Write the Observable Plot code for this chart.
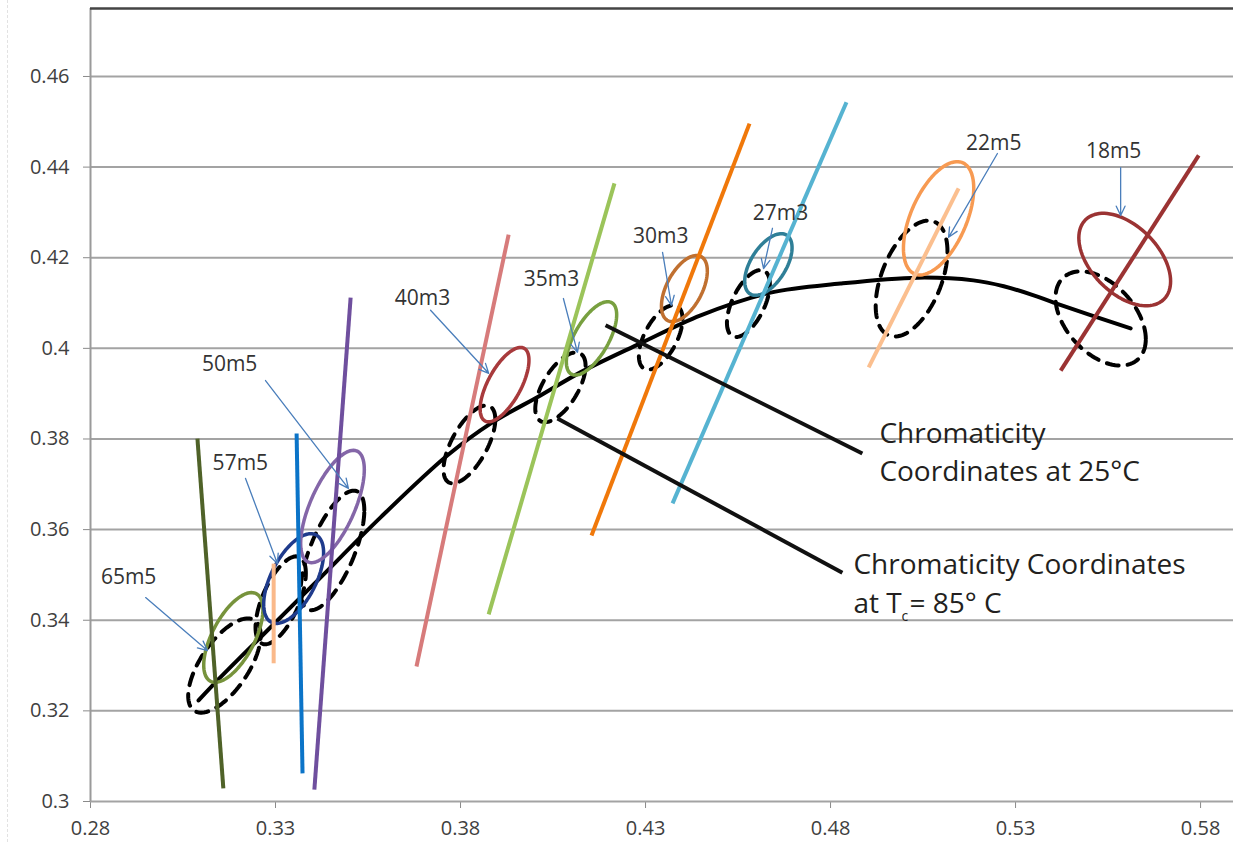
<!DOCTYPE html>
<html>
<head>
<meta charset="utf-8">
<script src="https://cdn.jsdelivr.net/npm/d3@7"></script>
<script src="https://cdn.jsdelivr.net/npm/@observablehq/plot@0.6"></script>
<style>
  html, body { margin: 0; padding: 0; background: #fff; }
  #wrap { position: relative; width: 1233px; height: 842px; overflow: hidden; }
  #edge { position: absolute; left: 7px; top: 0; height: 842px; border-left: 1px dashed #e2e2e2; }
  svg [aria-label="y-axis tick"], svg [aria-label="x-axis tick"] { stroke: #8a8a8a; }
  svg [aria-label="y-axis tick label"], svg [aria-label="x-axis tick label"] { fill: #404040; }
</style>
</head>
<body>
<div id="wrap"><div id="edge"></div><div id="chart"></div></div>
<script>
// ---- axis ticks ----
const xTicks = [0.28, 0.33, 0.38, 0.43, 0.48, 0.53, 0.58];
const yTicks = [0.3, 0.32, 0.34, 0.36, 0.38, 0.4, 0.42, 0.44, 0.46];
const xDomain = [0.28, 0.5889];
const yDomain = [0.3, 0.475];

// ---- black locus curve ----
const locusX = [0.3092, 0.3132, 0.3259, 0.3403, 0.3584, 0.3765, 0.3881, 0.4016, 0.4124, 0.4286, 0.4449, 0.4638, 0.4827, 0.5035, 0.5186, 0.5268, 0.5349, 0.5403, 0.5611];
const locusY = [0.3223, 0.3258, 0.3362, 0.3479, 0.3627, 0.3764, 0.3834, 0.3896, 0.3947, 0.4011, 0.4073, 0.4123, 0.4143, 0.4156, 0.4150, 0.4137, 0.4117, 0.4101, 0.4044];

// ---- coloured iso lines (end points) ----
const isoColor = ["#4f6228", "#fab98a", "#0b74c8", "#6f4f9e", "#d77b7b", "#9bc45a", "#f0780a", "#56b3d1", "#fbbf8f", "#9b3333"];
const isoX1 = [0.3089, 0.3295, 0.3357, 0.3503, 0.3930, 0.4216, 0.4581, 0.4843, 0.5146, 0.5795];
const isoY1 = [0.3801, 0.3525, 0.3812, 0.4112, 0.4251, 0.4364, 0.4496, 0.4543, 0.4353, 0.4426];
const isoX2 = [0.3159, 0.3295, 0.3373, 0.3405, 0.3681, 0.3876, 0.4154, 0.4373, 0.4903, 0.5422];
const isoY2 = [0.3029, 0.3305, 0.3062, 0.3026, 0.3298, 0.3413, 0.3587, 0.3658, 0.3958, 0.3951];

// ---- 25°C ellipses (solid, coloured) : centre, half x-extent, half y-extent, phase ----
const labels   = ["65m5", "57m5", "50m5", "40m3", "35m3", "30m3", "27m3", "22m5", "18m5"];
const ellColor = ["#77933c", "#1f3b8c", "#8466a8", "#a83a3c", "#78a040", "#c07030", "#2f7f97", "#f79a52", "#9b3333"];
const ellCx  = [0.3186, 0.3349, 0.3454, 0.3919, 0.4154, 0.4405, 0.4632, 0.5092, 0.5595];
const ellCy  = [0.3362, 0.3492, 0.3651, 0.3920, 0.4022, 0.4132, 0.4185, 0.4287, 0.4196];
const ellRx  = [0.0080, 0.0081, 0.0086, 0.0066, 0.0068, 0.0062, 0.0064, 0.0095, 0.0124];
const ellRy  = [0.0099, 0.0099, 0.0124, 0.0082, 0.0081, 0.0073, 0.0068, 0.0125, 0.0102];
const ellPhi = [52, 55, 49, 49, 50, 58, 57, 58, 118];

// ---- 85°C ellipses (dashed, black) ----
const hotCx  = [0.3162, 0.3314, 0.3454, 0.3824, 0.4070, 0.4341, 0.4578, 0.5019, 0.5530];
const hotCy  = [0.3300, 0.3444, 0.3554, 0.3788, 0.3914, 0.4024, 0.4099, 0.4154, 0.4066];
const hotRx  = [0.0098, 0.0068, 0.0086, 0.0070, 0.0068, 0.0059, 0.0058, 0.0097, 0.0122];
const hotRy  = [0.0104, 0.0097, 0.0132, 0.0086, 0.0077, 0.0071, 0.0074, 0.0128, 0.0104];
const hotPhi = [50, 52, 48, 50, 52, 55, 55, 62, 116];

// ---- labels & arrows ----
const labelX = [0.2903, 0.3205, 0.3176, 0.3697, 0.4046, 0.4341, 0.4665, 0.5241, 0.5565];
const labelY = [0.3494, 0.3746, 0.3964, 0.4110, 0.4152, 0.4247, 0.4298, 0.4452, 0.4435];
const arrX1 = [0.2949, 0.3219, 0.3273, 0.3719, 0.4078, 0.4346, 0.4643, 0.5251, 0.5584];
const arrY1 = [0.3450, 0.3713, 0.3929, 0.4084, 0.4110, 0.4212, 0.4265, 0.4430, 0.4399];
const arrX2 = [0.3116, 0.3305, 0.3497, 0.3876, 0.4116, 0.4370, 0.4619, 0.5119, 0.5584];
const arrY2 = [0.3333, 0.3525, 0.3691, 0.3945, 0.3991, 0.4095, 0.4176, 0.4245, 0.4293];

// ---- callouts ----
const calloutX1 = [0.4192, 0.4062];
const calloutY1 = [0.4051, 0.3845];
const calloutX2 = [0.4886, 0.4832];
const calloutY2 = [0.3768, 0.3505];
const noteText = ["Chromaticity", "Coordinates at 25°C", "Chromaticity Coordinates"];
const noteX = [0.4932, 0.4932, 0.4862];
const noteY = [0.3792, 0.3708, 0.3503];
const note4X = 0.4862, note4Y = 0.3415;

// ---- build tables ----
const locus = locusX.map((x, i) => ({x, y: locusY[i]}));
const iso = isoX1.map((x, i) => ({x1: x, y1: isoY1[i], x2: isoX2[i], y2: isoY2[i], c: isoColor[i]}));
function ellipsePts(cx, cy, rx, ry, phiDeg, id) {
  const phi = phiDeg * Math.PI / 180, pts = [];
  for (let k = 0; k <= 96; k++) {
    const t = 2 * Math.PI * k / 96;
    pts.push({id, x: cx + rx * Math.cos(t), y: cy + ry * Math.cos(t - phi)});
  }
  return pts;
}
const coolEll = labels.flatMap((l, i) => ellipsePts(ellCx[i], ellCy[i], ellRx[i], ellRy[i], ellPhi[i], l).map(p => ({...p, c: ellColor[i]})));
const hotEll = labels.flatMap((l, i) => ellipsePts(hotCx[i], hotCy[i], hotRx[i], hotRy[i], hotPhi[i], l));
const lab = labels.map((t, i) => ({t, x: labelX[i], y: labelY[i]}));
const arr = labels.map((t, i) => ({x1: arrX1[i], y1: arrY1[i], x2: arrX2[i], y2: arrY2[i]}));
const callouts = calloutX1.map((x, i) => ({x1: x, y1: calloutY1[i], x2: calloutX2[i], y2: calloutY2[i]}));
const notes = noteText.map((t, i) => ({t, x: noteX[i], y: noteY[i]}));
const FONT = "'Open Sans', 'Noto Sans', sans-serif";
const fmt = d => String(+d.toFixed(2));

const chart = Plot.plot({
  width: 1233,
  height: 842,
  marginLeft: 90,
  marginRight: 0,
  marginTop: 8,
  marginBottom: 41,
  style: {fontFamily: FONT, fontSize: "20px", color: "#404040", background: "#fff", overflow: "visible"},
  x: {domain: xDomain, ticks: xTicks, tickFormat: fmt, tickSize: 7, tickPadding: 12, label: null},
  y: {domain: yDomain, ticks: yTicks, tickFormat: fmt, tickSize: 7, tickPadding: 14, label: null},
  marks: [
    Plot.ruleY(yTicks, {stroke: "#a3a3a3", strokeWidth: 2}),
    Plot.ruleX([xDomain[0]], {stroke: "#9a9a9a", strokeWidth: 2}),
    Plot.ruleY([yDomain[1]], {stroke: "#444", strokeWidth: 2.5}),
    Plot.line(locus, {x: "x", y: "y", curve: "catmull-rom", stroke: "#000", strokeWidth: 4}),
    Plot.line(hotEll, {x: "x", y: "y", z: "id", stroke: "#000", strokeWidth: 4, strokeDasharray: "12,9"}),
    Plot.line(coolEll, {x: "x", y: "y", z: "id", stroke: "c", strokeWidth: 3.5}),
    Plot.link(iso, {x1: "x1", y1: "y1", x2: "x2", y2: "y2", stroke: "c", strokeWidth: 4}),
    Plot.link(callouts, {x1: "x1", y1: "y1", x2: "x2", y2: "y2", stroke: "#111", strokeWidth: 4}),
    Plot.arrow(arr, {x1: "x1", y1: "y1", x2: "x2", y2: "y2", stroke: "#4a7ebb", strokeWidth: 1.3, headLength: 12, headAngle: 50}),
    Plot.text(lab, {x: "x", y: "y", text: "t", fontSize: 21, fill: "#333", fontFamily: FONT}),
    Plot.text(notes, {x: "x", y: "y", text: "t", fontSize: 28, fill: "#231f20", textAnchor: "start", lineAnchor: "bottom", fontFamily: FONT}),
    Plot.text([{x: note4X, y: note4Y}], {x: "x", y: "y", text: () => "at T", fontSize: 28, fill: "#231f20", textAnchor: "start", lineAnchor: "bottom", fontFamily: FONT}),
    Plot.text([{x: note4X, y: note4Y}], {x: "x", y: "y", text: () => "c", dx: 48, dy: 8, fontSize: 14, fill: "#231f20", textAnchor: "start", lineAnchor: "bottom", fontFamily: FONT}),
    Plot.text([{x: note4X, y: note4Y}], {x: "x", y: "y", text: () => "= 85° C", dx: 56, fontSize: 28, fill: "#231f20", textAnchor: "start", lineAnchor: "bottom", fontFamily: FONT})
  ]
});
document.getElementById("chart").appendChild(chart);
</script>
</body>
</html>
